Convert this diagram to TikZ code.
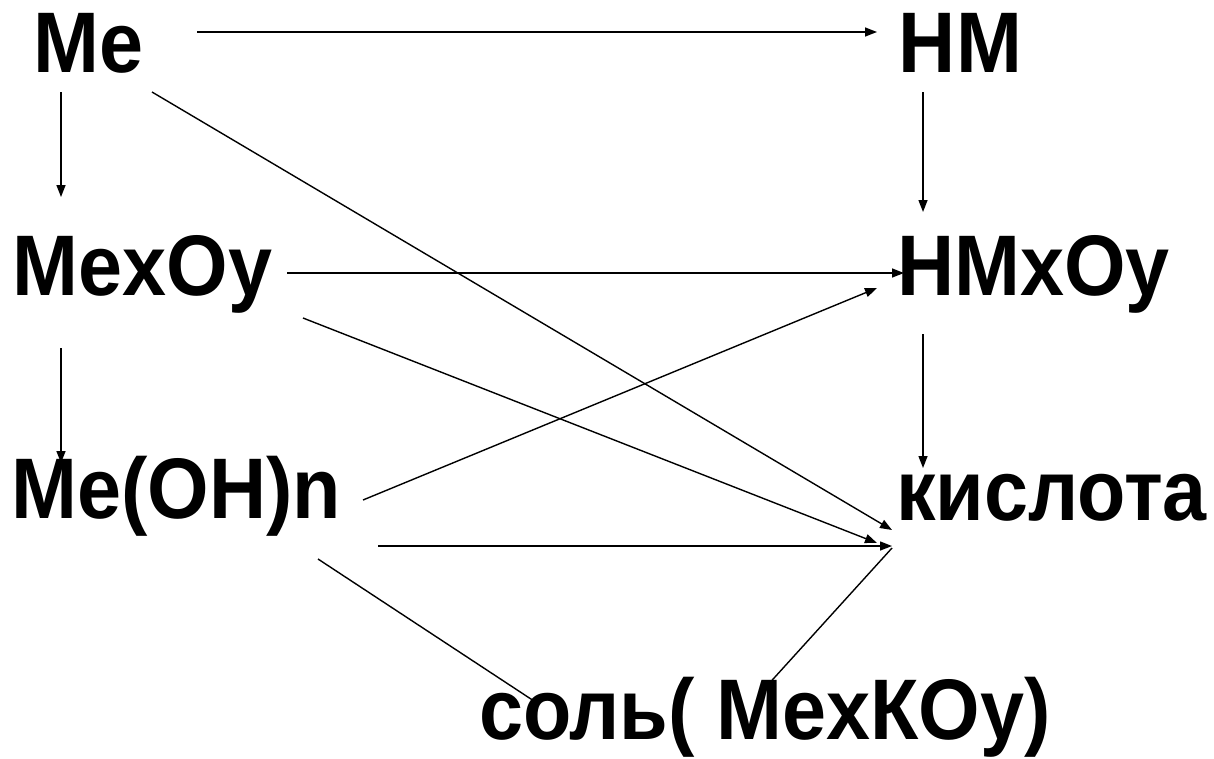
\documentclass[tikz,border=0pt]{standalone}
\usepackage{fontspec}
\setmainfont{Liberation Sans}[FakeStretch=0.92]
\usetikzlibrary{arrows.meta}

\begin{document}
\begin{tikzpicture}[x=1pt, y=-1pt]
	\tikzstyle{term} = [ inner sep=0pt, anchor=base, font={\fontsize{86}{94}\selectfont\bfseries} ];
	\tikzstyle{point} = [ ->, >={Triangle[length=12pt, width=9pt]}, line width=1.4pt ];
	\tikzstyle{link} = [ line width=1.4pt ];

	\useasboundingbox (0,0) rectangle (1214,758);

	% substances
	\node[term] (me)    at (88.5,72)   {Me};
	\node[term] (hm)    at (960.5,72)  {НМ};
	\node[term] (mexoy) at (142.5,295) {MexOy};
	\node[term] (hmxoy) at (1033.5,295) {НМxOy};
	\node[term] (meoh)  at (176.5,518) {Me(OH)n};
	\node[term] (acid)  at (1051.5,520) {кислота};
	\node[term] (salt)  at (765,739)   {соль( MexКOy)};

	% transitions
	\draw[point] ([shift={(108.5,-40)}]me.base) -- ([shift={(-83.5,-40)}]hm.base);
	\draw[point] ([shift={(-27.5,20)}]me.base) -- ([shift={(-81.5,-98)}]mexoy.base);
	\draw[point] ([shift={(-37.5,20)}]hm.base) -- ([shift={(-110.5,-83)}]hmxoy.base);
	\draw[point] ([shift={(63.5,20)}]me.base) -- ([shift={(-159.5,10)}]acid.base);

	\draw[point] ([shift={(144.5,-22)}]mexoy.base) -- ([shift={(-129.5,-22)}]hmxoy.base);
	\draw[point] ([shift={(160.5,23)}]mexoy.base) -- ([shift={(-174.5,23)}]acid.base);
	\draw[point] ([shift={(-81.5,53)}]mexoy.base) -- ([shift={(-115.5,-55)}]meoh.base);
	\draw[point] ([shift={(-110.5,39)}]hmxoy.base) -- ([shift={(-128.5,-52)}]acid.base);

	\draw[point] ([shift={(186.5,-18)}]meoh.base) -- ([shift={(-156.5,-7)}]hmxoy.base);
	\draw[point] ([shift={(201.5,28)}]meoh.base) -- ([shift={(-159.5,26)}]acid.base);

	\draw[link] ([shift={(141.5,41)}]meoh.base) -- ([shift={(-228,-36)}]salt.base);
	\draw[link] ([shift={(-159.5,28)}]acid.base) -- ([shift={(0,-51)}]salt.base);
\end{tikzpicture}
\end{document}
